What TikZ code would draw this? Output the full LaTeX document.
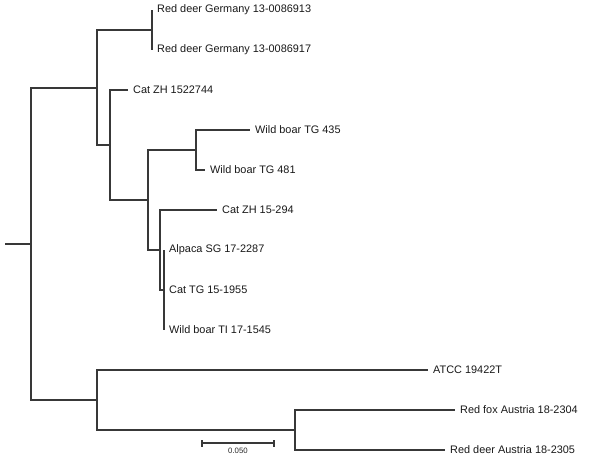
\documentclass[tikz,border=0pt]{standalone}
\usepackage{fontspec}
\setmainfont{Liberation Sans}
\begin{document}
\begin{tikzpicture}[x=1pt,y=-1pt,
  branch/.style={draw=black!78,line width=1.2pt},
  leaf/.style={anchor=west,inner xsep=5pt,inner ysep=0pt,font=\fontsize{10.9}{12}\selectfont,text=black!90},
  sclabel/.style={font=\fontsize{7.8}{9}\selectfont,text=black!85,inner sep=0pt}]
\useasboundingbox (0,0) rectangle (600,464);
% internal nodes
\coordinate (stub) at (5,244);
\coordinate (r) at (31,244);
\coordinate (n1) at (97,88);
\coordinate (nrd) at (152,30);
\coordinate (n2) at (110,145);
\coordinate (n3) at (148,200);
\coordinate (nwb) at (196,150);
\coordinate (n4) at (160,250);
\coordinate (n5) at (164,290);
\coordinate (n6) at (97,400);
\coordinate (n7) at (295,430);
% leaves
\node[leaf] (l1) at (152,10) {Red deer Germany 13-0086913};
\node[leaf] (l2) at (152,50) {Red deer Germany 13-0086917};
\node[leaf] (l3) at (128,90) {Cat ZH 1522744};
\node[leaf] (l4) at (250,130) {Wild boar TG 435};
\node[leaf] (l5) at (205,170) {Wild boar TG 481};
\node[leaf] (l6) at (217,210) {Cat ZH 15-294};
\node[leaf] (l7) at (164,250) {Alpaca SG 17-2287};
\node[leaf] (l8) at (164,290) {Cat TG 15-1955};
\node[leaf] (l9) at (164,330) {Wild boar TI 17-1545};
\node[leaf] (l10) at (428,370) {ATCC 19422T};
\node[leaf] (l11) at (455,410) {Red fox Austria 18-2304};
\node[leaf] (l12) at (445,450) {Red deer Austria 18-2305};
% branches
\draw[branch] (stub) -- (r);
\draw[branch] (r) |- (n1);
\draw[branch] (r) |- (n6);
\draw[branch] (n1) |- (nrd);
\draw[branch] (n1) |- (n2);
\draw[branch] (nrd) |- (l1.west);
\draw[branch] (nrd) |- (l2.west);
\draw[branch] (n2) |- (l3.west);
\draw[branch] (n2) |- (n3);
\draw[branch] (n3) |- (nwb);
\draw[branch] (n3) |- (n4);
\draw[branch] (nwb) |- (l4.west);
\draw[branch] (nwb) |- (l5.west);
\draw[branch] (n4) |- (l6.west);
\draw[branch] (n4) |- (n5);
\draw[branch] (n5) |- (l7.west);
\draw[branch] (n5) |- (l8.west);
\draw[branch] (n5) |- (l9.west);
\draw[branch] (n6) |- (l10.west);
\draw[branch] (n6) |- (n7);
\draw[branch] (n7) |- (l11.west);
\draw[branch] (n7) |- (l12.west);
% scale bar
\coordinate (sa) at (202,443);
\coordinate (sb) at (274,443);
\draw[branch] (sa) -- (sb);
\draw[branch] ([yshift=-3.5]sa) -- ([yshift=3.5]sa);
\draw[branch] ([yshift=-3.5]sb) -- ([yshift=3.5]sb);
\node[sclabel] (sl) at (238,451) {0.050};
\end{tikzpicture}
\end{document}
